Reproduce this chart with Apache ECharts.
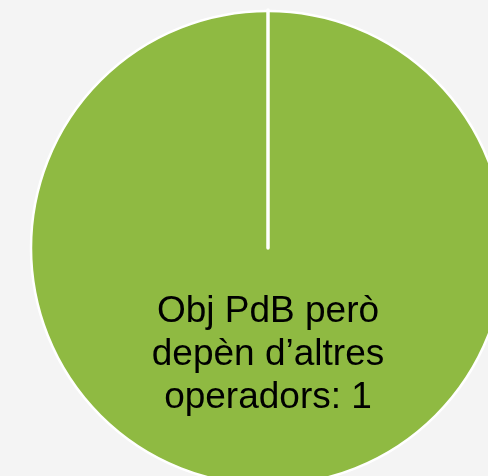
<!DOCTYPE html>
<html><head><meta charset="utf-8">
<script src="https://cdn.jsdelivr.net/npm/echarts@6/dist/echarts.min.js"></script>
<style>html,body{margin:0;padding:0;background:#f4f4f4;}#c{width:488px;height:476px;}</style>
</head><body><div id="c"></div>
<script>
const categories = ["Obj PdB però depèn d’altres operadors"];
const values = [1];
const labelLines = ["Obj PdB però", "depèn d’altres", "operadors"];

const chart = echarts.init(document.getElementById('c'), null, {renderer: 'canvas'});
chart.setOption({
  backgroundColor: '#f4f4f4',
  animation: false,
  polar: {center: [268, 248], radius: 238},
  angleAxis: {show: false, startAngle: 90, min: 0, max: 1},
  radiusAxis: {
    min: 0, max: 1, z: 10,
    axisLine: {show: true, lineStyle: {color: '#ffffff', width: 3.5, cap: 'round'}},
    axisTick: {show: false}, axisLabel: {show: false}, splitLine: {show: false}
  },
  series: [{
    type: 'pie',
    center: [268, 248],
    radius: [0, 237],
    startAngle: 90,
    z: 2,
    itemStyle: {color: '#8fba42', borderColor: '#ffffff', borderWidth: 2.5},
    label: {
      show: true,
      position: 'inside',
      formatter: p => labelLines.join('\n') + ': ' + p.value,
      fontFamily: 'Liberation Sans, Arial, sans-serif',
      fontSize: 37,
      lineHeight: 43,
      color: '#000000',
      align: 'center',
      offset: [0, -15]
    },
    labelLine: {show: false},
    emphasis: {disabled: true},
    data: categories.map((c, i) => ({name: c, value: values[i]}))
  }]
});
</script></body></html>
